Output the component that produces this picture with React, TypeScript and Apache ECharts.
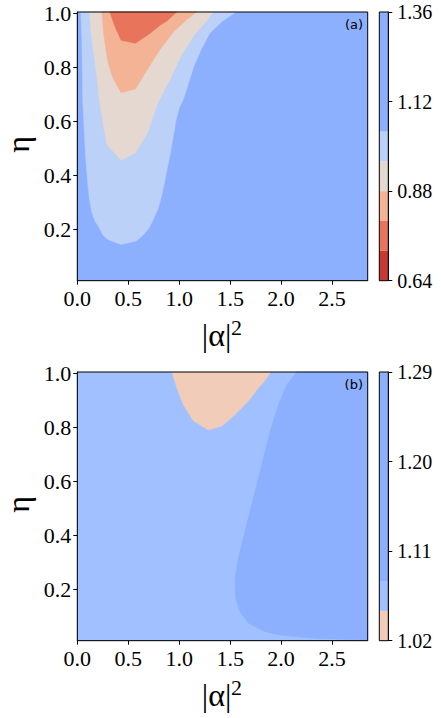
import React, { useEffect, useRef } from "react";
import * as echarts from "echarts";

// ---------- axes ----------
const X_MIN = 0;
const X_MAX = 2.85;
const X_STEP = 0.5;
const X_TICKS = [0, 0.5, 1.0, 1.5, 2.0, 2.5];
const Y_MIN = 0.01;
const Y_MAX = 1.005;
const Y_TICKS = [0.2, 0.4, 0.6, 0.8, 1.0];

// ---------- panel (a) ----------
const A_LEVELS = [0.64, 0.72, 0.8, 0.88, 0.96, 1.04, 1.36];
const A_COLORS = ["#c83934", "#e7745b", "#f5b396", "#e4d8d1", "#bbd1f8", "#8db0fe"];
const A_CBAR_TICKS = [0.64, 0.88, 1.12, 1.36];
// region where value < 1.04 (band 0.96–1.04)
const A_BELOW_104 = [
  [0.035, 1.005], [0.045, 0.9], [0.053, 0.68], [0.069, 0.558], [0.085, 0.45], [0.102, 0.373],
  [0.12, 0.31], [0.144, 0.262], [0.175, 0.23], [0.216, 0.206], [0.25, 0.18], [0.298, 0.163],
  [0.43, 0.144], [0.577, 0.157], [0.65, 0.18], [0.707, 0.206], [0.75, 0.24], [0.79, 0.274],
  [0.825, 0.32], [0.855, 0.373], [0.89, 0.44], [0.92, 0.496], [0.97, 0.607], [1.0, 0.65],
  [1.04, 0.68], [1.09, 0.74], [1.14, 0.8], [1.22, 0.87], [1.3, 0.926], [1.42, 0.97], [1.556, 1.005],
];
// value < 0.96 (band 0.88–0.96)
const A_BELOW_096 = [
  [0.118, 1.005], [0.135, 0.93], [0.167, 0.837], [0.2, 0.74], [0.216, 0.68], [0.25, 0.6],
  [0.289, 0.515], [0.43, 0.456], [0.57, 0.484], [0.69, 0.558], [0.79, 0.669], [0.91, 0.756],
  [1.025, 0.848], [1.14, 0.916], [1.24, 0.959], [1.336, 1.005],
];
// value < 0.88 (band 0.80–0.88)
const A_BELOW_088 = [
  [0.24, 1.005], [0.26, 0.92], [0.3, 0.82], [0.35, 0.76], [0.43, 0.706], [0.57, 0.72],
  [0.69, 0.794], [0.81, 0.865], [0.94, 0.93], [1.07, 0.975], [1.17, 1.005],
];
// value < 0.80 (band 0.72–0.80)
const A_BELOW_080 = [
  [0.32, 1.005], [0.37, 0.95], [0.43, 0.9], [0.57, 0.889], [0.7, 0.922], [0.81, 0.955],
  [0.88, 0.972], [0.975, 1.005],
];

// ---------- panel (b) ----------
const B_LEVELS = [1.02, 1.05, 1.08, 1.29];
const B_COLORS = ["#f1ccb8", "#a1c0ff", "#8db0fe"];
const B_CBAR_TICKS = [1.02, 1.11, 1.2, 1.29];
// value < 1.05 (band 1.02–1.05)
const B_BELOW_105 = [
  [0.93, 1.005], [0.976, 0.947], [1.04, 0.885], [1.14, 0.824], [1.287, 0.79], [1.418, 0.805],
  [1.55, 0.848], [1.68, 0.898], [1.778, 0.947], [1.827, 0.966], [1.9, 1.005],
];
// value > 1.08 (band 1.08–1.29)
const B_ABOVE_108 = [
  [2.155, 1.005], [2.057, 0.959], [1.975, 0.885], [1.893, 0.787], [1.811, 0.663], [1.729, 0.54],
  [1.647, 0.417], [1.582, 0.318], [1.549, 0.244], [1.552, 0.17], [1.6, 0.115], [1.68, 0.075],
  [1.83, 0.045], [2.0, 0.03], [2.35, 0.018], [2.7, 0.014], [2.85, 0.013], [2.85, 1.005],
];

const X_NAME = "|α|";
const X_NAME_SUP = "2";
const Y_NAME = "η";
const SERIF = "Liberation Serif";
const BLACK = "#000";

function textStyle(text: string, align: string, fontSize: number) {
  return {
    text,
    align,
    textAlign: align,
    verticalAlign: "middle",
    textVerticalAlign: "middle",
    fontFamily: SERIF,
    fontSize,
    fill: BLACK,
  };
}

function polygonSeries(pts: number[][], color: string, axisIdx: number) {
  return {
    type: "custom",
    xAxisIndex: axisIdx,
    yAxisIndex: axisIdx,
    silent: true,
    z: 2,
    data: [pts[0]],
    renderItem: (_p: any, api: any) => ({
      type: "polygon",
      shape: { points: pts.map((p) => api.coord(p)) },
      style: { fill: color, stroke: color, lineWidth: 0.5 },
    }),
  };
}

function boxSeries(axisIdx: number, xr: number[], yr: number[], fill: string, stroke: string, z: number) {
  return {
    type: "custom",
    xAxisIndex: axisIdx,
    yAxisIndex: axisIdx,
    silent: true,
    z,
    data: [[xr[0], yr[0], xr[1], yr[1]]],
    renderItem: (_p: any, api: any) => {
      const a = api.coord([api.value(0), api.value(1)]);
      const b = api.coord([api.value(2), api.value(3)]);
      return {
        type: "rect",
        shape: { x: a[0], y: b[1], width: b[0] - a[0], height: a[1] - b[1] },
        style: { fill, stroke, lineWidth: stroke === "none" ? 0 : 1 },
      };
    },
  };
}

function cbarSeries(levels: number[], colors: string[], axisIdx: number) {
  return {
    type: "custom",
    xAxisIndex: axisIdx,
    yAxisIndex: axisIdx,
    silent: true,
    z: 2,
    data: colors.map((_c, i) => [0, levels[i], levels[i + 1], i]),
    renderItem: (_p: any, api: any) => {
      const lo = api.value(1);
      const hi = api.value(2);
      const i = api.value(3);
      const p0 = api.coord([0, lo]);
      const p1 = api.coord([1, hi]);
      return {
        type: "rect",
        shape: { x: p0[0], y: p1[1], width: p1[0] - p0[0], height: p0[1] - p1[1] },
        style: { fill: colors[i] },
      };
    },
  };
}

// tick labels placed through the axis scale
function xLabelSeries(axisIdx: number) {
  return {
    type: "custom",
    xAxisIndex: axisIdx,
    yAxisIndex: axisIdx,
    silent: true,
    z: 10,
    data: X_TICKS.map((v) => [v, Y_MIN]),
    renderItem: (_p: any, api: any) => {
      const v = api.value(0);
      const p = api.coord([v, api.value(1)]);
      return { type: "text", x: p[0], y: p[1] + 17.5, style: textStyle(v.toFixed(1), "center", 22) };
    },
  };
}

function yLabelSeries(axisIdx: number) {
  return {
    type: "custom",
    xAxisIndex: axisIdx,
    yAxisIndex: axisIdx,
    silent: true,
    z: 10,
    data: Y_TICKS.map((v) => [X_MIN, v]),
    renderItem: (_p: any, api: any) => {
      const v = api.value(1);
      const p = api.coord([api.value(0), v]);
      return { type: "text", x: p[0] - 6, y: p[1] + 0.5, style: textStyle(v.toFixed(1), "right", 22) };
    },
  };
}

function namesSeries(axisIdx: number) {
  return {
    type: "custom",
    xAxisIndex: axisIdx,
    yAxisIndex: axisIdx,
    silent: true,
    z: 10,
    data: [[X_MIN, Y_MIN, X_MAX, Y_MAX]],
    renderItem: (_p: any, api: any) => {
      const bl = api.coord([api.value(0), api.value(1)]);
      const tr = api.coord([api.value(2), api.value(3)]);
      const cx = (bl[0] + tr[0]) / 2;
      const cy = (bl[1] + tr[1]) / 2;
      return {
        type: "group",
        children: [
          { type: "text", x: cx - 6, y: bl[1] + 54.5, style: textStyle(X_NAME, "center", 32) },
          { type: "text", x: cx + 8.5, y: bl[1] + 47, style: textStyle(X_NAME_SUP, "left", 22) },
          {
            type: "text",
            x: bl[0] - 59,
            y: cy - 2,
            rotation: Math.PI / 2,
            style: textStyle(Y_NAME, "center", 32),
          },
        ],
      };
    },
  };
}

function cbarLabelSeries(axisIdx: number, ticks: number[]) {
  return {
    type: "custom",
    xAxisIndex: axisIdx,
    yAxisIndex: axisIdx,
    silent: true,
    z: 10,
    data: ticks.map((v) => [1, v]),
    renderItem: (_p: any, api: any) => {
      const v = api.value(1);
      const p = api.coord([api.value(0), v]);
      return { type: "text", x: p[0] + 9, y: p[1], style: textStyle(v.toFixed(2), "left", 20) };
    },
  };
}

function mainX(grid: number) {
  return {
    type: "value",
    gridIndex: grid,
    min: X_MIN,
    max: X_MAX,
    interval: X_STEP,
    axisLine: { show: true, onZero: false, lineStyle: { color: BLACK, width: 1 } },
    axisTick: { show: true, length: 4, customValues: X_TICKS, lineStyle: { color: BLACK } },
    axisLabel: { show: false },
    splitLine: { show: false },
  };
}

function mainY(grid: number) {
  return {
    type: "value",
    gridIndex: grid,
    min: Y_MIN,
    max: Y_MAX,
    axisLine: { show: true, onZero: false, lineStyle: { color: BLACK, width: 1 } },
    axisTick: { show: true, length: 4, customValues: Y_TICKS, lineStyle: { color: BLACK } },
    axisLabel: { show: false },
    splitLine: { show: false },
  };
}

function cbarX(grid: number) {
  return {
    type: "value",
    gridIndex: grid,
    min: 0,
    max: 1,
    axisLine: { show: false },
    axisTick: { show: false },
    axisLabel: { show: false },
    splitLine: { show: false },
  };
}

function cbarY(grid: number, levels: number[], ticks: number[]) {
  return {
    type: "value",
    gridIndex: grid,
    position: "right",
    min: levels[0],
    max: levels[levels.length - 1],
    axisLine: { show: true, onZero: false, lineStyle: { color: BLACK, width: 1 } },
    axisTick: { show: true, length: 4, customValues: ticks, lineStyle: { color: BLACK } },
    axisLabel: { show: false },
    splitLine: { show: false },
  };
}

export default function App() {
  const ref = useRef<HTMLDivElement>(null);
  useEffect(() => {
    if (!ref.current) return;
    const chart = echarts.init(ref.current, null, { renderer: "svg" });
    const XR = [X_MIN, X_MAX];
    const YR = [Y_MIN, Y_MAX];
    const ALR = [A_LEVELS[0], A_LEVELS[A_LEVELS.length - 1]];
    const BLR = [B_LEVELS[0], B_LEVELS[B_LEVELS.length - 1]];
    const option: any = {
      animation: false,
      grid: [
        { left: 77.3, top: 12, width: 290.4, height: 268.7 },
        { left: 379.3, top: 12, width: 9, height: 268.7 },
        { left: 77.3, top: 372, width: 290.4, height: 268.7 },
        { left: 379.3, top: 372, width: 9, height: 268.7 },
      ],
      xAxis: [mainX(0), cbarX(1), mainX(2), cbarX(3)],
      yAxis: [mainY(0), cbarY(1, A_LEVELS, A_CBAR_TICKS), mainY(2), cbarY(3, B_LEVELS, B_CBAR_TICKS)],
      title: [
        {
          text: "(a)",
          right: 78,
          top: 17.5,
          padding: 0,
          textStyle: { fontFamily: "DejaVu Sans", fontSize: 13, fontWeight: "normal", color: BLACK },
        },
        {
          text: "(b)",
          right: 78,
          top: 377.5,
          padding: 0,
          textStyle: { fontFamily: "DejaVu Sans", fontSize: 13, fontWeight: "normal", color: BLACK },
        },
      ],
      series: [
        boxSeries(0, XR, YR, A_COLORS[A_COLORS.length - 1], "none", 1),
        polygonSeries(A_BELOW_104, A_COLORS[4], 0),
        polygonSeries(A_BELOW_096, A_COLORS[3], 0),
        polygonSeries(A_BELOW_088, A_COLORS[2], 0),
        polygonSeries(A_BELOW_080, A_COLORS[1], 0),
        boxSeries(0, XR, YR, "none", BLACK, 5),
        xLabelSeries(0),
        yLabelSeries(0),
        namesSeries(0),
        cbarSeries(A_LEVELS, A_COLORS, 1),
        boxSeries(1, [0, 1], ALR, "none", BLACK, 5),
        cbarLabelSeries(1, A_CBAR_TICKS),
        boxSeries(2, XR, YR, B_COLORS[1], "none", 1),
        polygonSeries(B_BELOW_105, B_COLORS[0], 2),
        polygonSeries(B_ABOVE_108, B_COLORS[2], 2),
        boxSeries(2, XR, YR, "none", BLACK, 5),
        xLabelSeries(2),
        yLabelSeries(2),
        namesSeries(2),
        cbarSeries(B_LEVELS, B_COLORS, 3),
        boxSeries(3, [0, 1], BLR, "none", BLACK, 5),
        cbarLabelSeries(3, B_CBAR_TICKS),
      ],
    };
    chart.setOption(option);
    return () => chart.dispose();
  }, []);
  return (
    <div
      ref={ref}
      style={{ position: "fixed", left: 0, top: 0, width: 441, height: 718, background: "#fff" }}
    />
  );
}
